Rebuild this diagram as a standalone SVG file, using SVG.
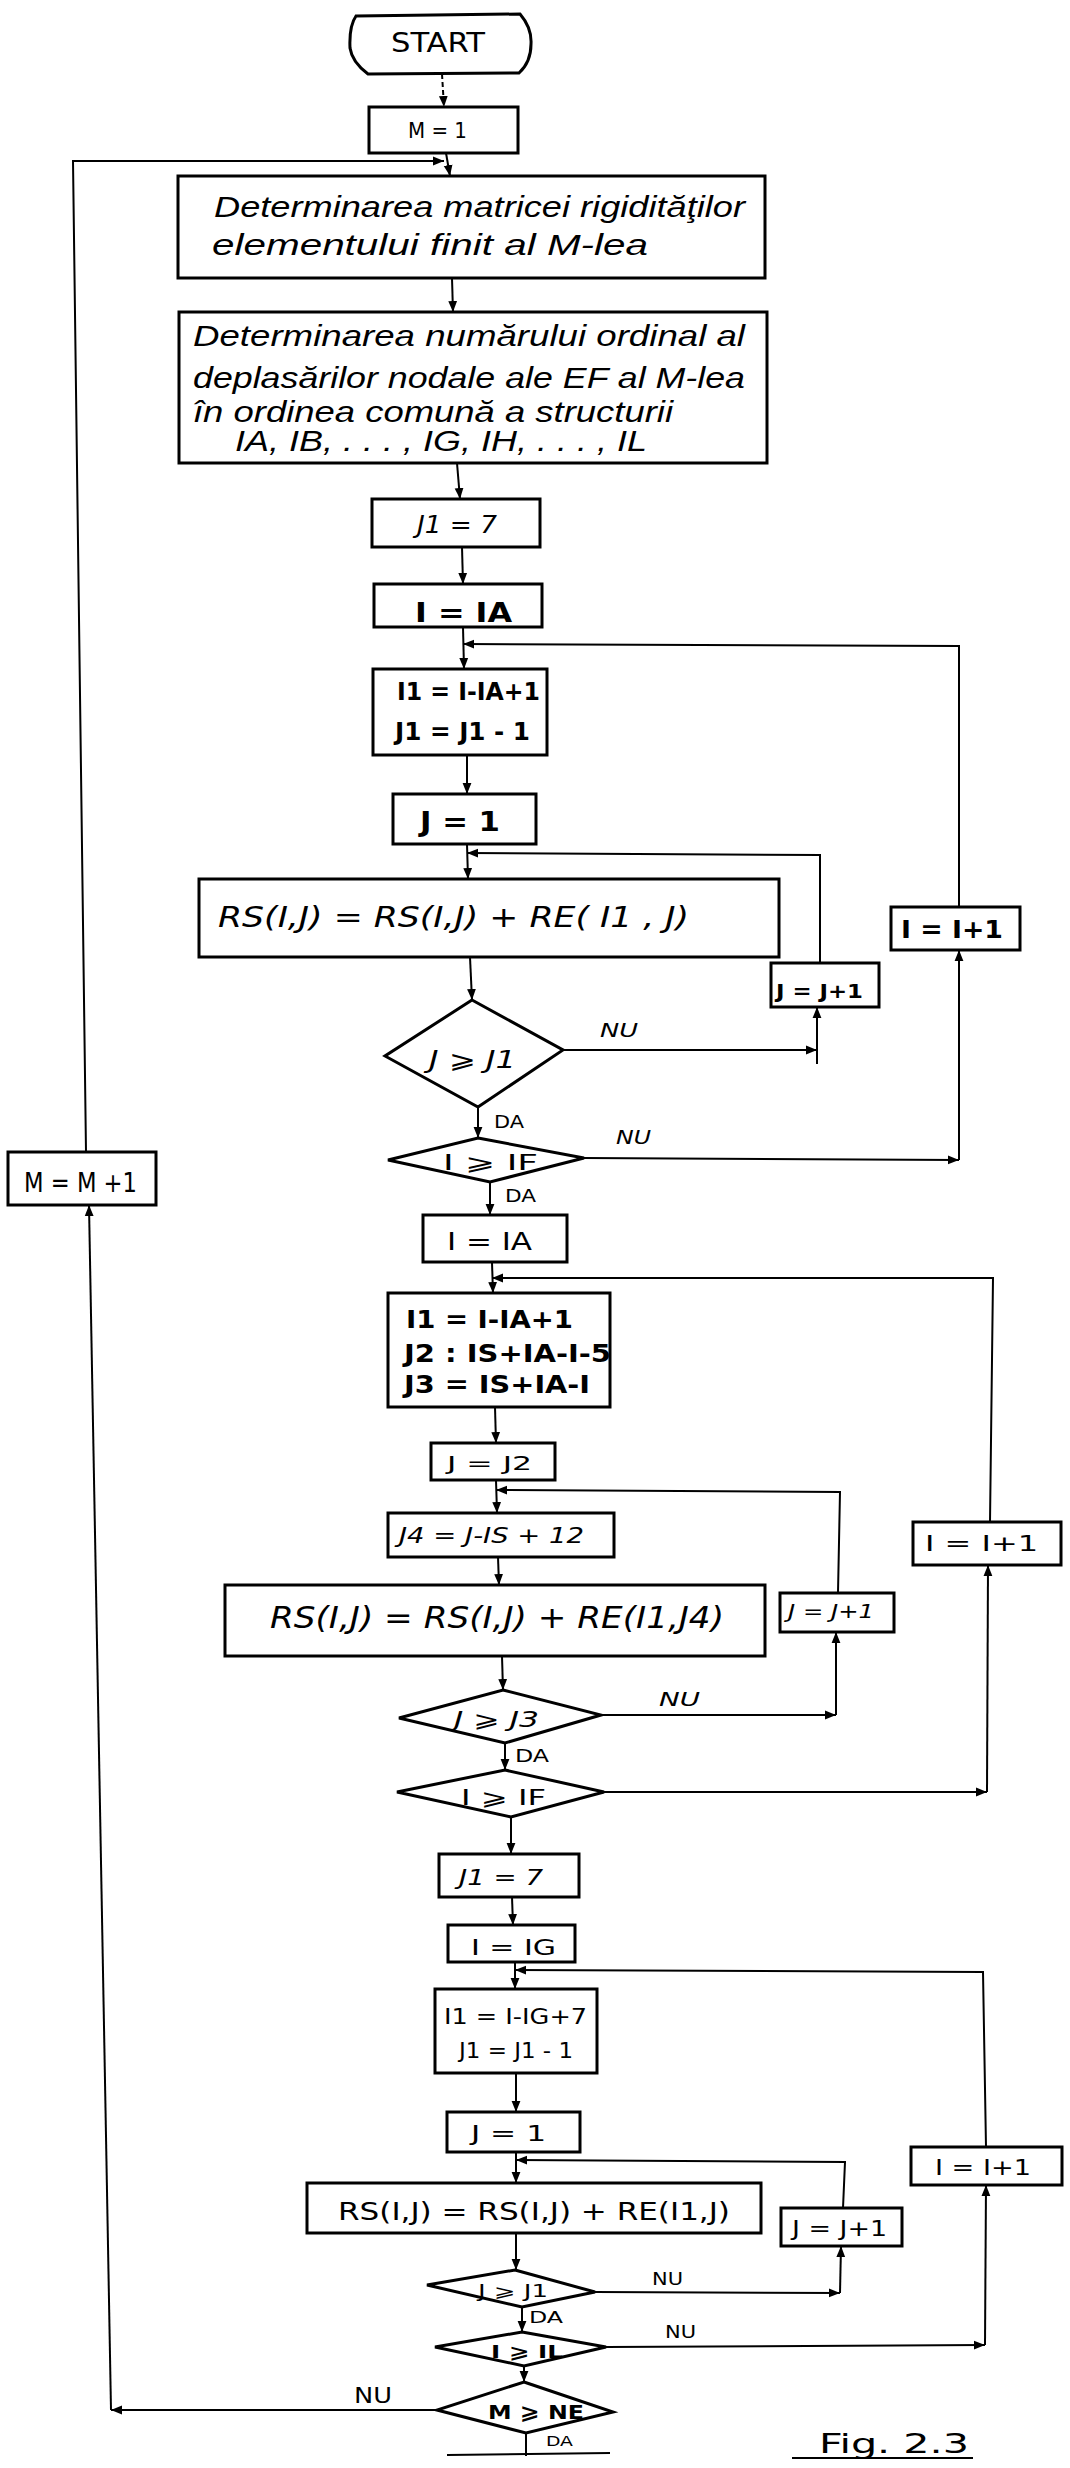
<svg xmlns="http://www.w3.org/2000/svg" width="1070" height="2468" viewBox="0 0 1070 2468">
<defs>
<marker id="ar" viewBox="0 0 10 10" refX="10" refY="5" markerWidth="11" markerHeight="11" markerUnits="userSpaceOnUse" orient="auto"><path d="M0,1 L10,5 L0,9 z" fill="#000"/></marker>
<style>
.bx{fill:#fff;stroke:#000;stroke-width:3}
.dm{fill:#fff;stroke:#000;stroke-width:3;stroke-linejoin:miter}
.cn{fill:none;stroke:#000;stroke-width:2}
.cn path{marker-end:url(#ar)}
.hw{font-family:"Liberation Sans",sans-serif;font-style:italic;font-size:30px}
.bc{font-family:"DejaVu Sans Condensed","DejaVu Sans",sans-serif;font-weight:bold}
.ic{font-family:"DejaVu Sans Condensed","DejaVu Sans",sans-serif;font-style:italic}
.nc{font-family:"DejaVu Sans Condensed","DejaVu Sans",sans-serif}
text{fill:#000}
</style>
</defs>
<rect width="1070" height="2468" fill="#fff"/>

<g id="connectors" class="cn">
<path d="M442,74 L444,107" stroke-dasharray="5 3"/>
<path d="M446,153 L450,176"/>
<path d="M452,278 L453,312"/>
<path d="M457,463 L460,499"/>
<path d="M462,547 L463,584"/>
<path d="M463,627 L464,669"/>
<path d="M467,755 L467,794"/>
<path d="M467,844 L468,879"/>
<path d="M470,957 L472,1000"/>
<path d="M563,1050 L817,1050"/>
<path d="M817,1064 L817,1007"/>
<path d="M820,963 L820,855 L467,853"/>
<path d="M478,1107 L478,1138"/>
<path d="M584,1158 L959,1160"/>
<path d="M959,1160 L959,950"/>
<path d="M959,907 L959,646 L463,644"/>
<path d="M490,1182 L490,1215"/>
<path d="M492,1262 L493,1293"/>
<path d="M495,1407 L496,1443"/>
<path d="M496,1480 L497,1513"/>
<path d="M498,1557 L499,1585"/>
<path d="M502,1656 L503,1690"/>
<path d="M601,1715 L836,1715"/>
<path d="M836,1715 L836,1632"/>
<path d="M838,1593 L840,1492 L496,1490"/>
<path d="M505,1743 L505,1770"/>
<path d="M604,1792 L987,1792"/>
<path d="M987,1792 L988,1565"/>
<path d="M990,1522 L993,1278 L492,1278"/>
<path d="M511,1817 L511,1854"/>
<path d="M512,1897 L513,1925"/>
<path d="M515,1962 L515,1989"/>
<path d="M516,2073 L516,2112"/>
<path d="M516,2152 L516,2183"/>
<path d="M516,2233 L516,2270"/>
<path d="M595,2292 L840,2293"/>
<path d="M840,2293 L841,2246"/>
<path d="M843,2208 L845,2162 L516,2160"/>
<path d="M522,2307 L522,2332"/>
<path d="M606,2347 L985,2345"/>
<path d="M985,2345 L986,2185"/>
<path d="M986,2147 L983,1972 L515,1970"/>
<path d="M524,2366 L524,2382"/>
<path d="M437,2410 L111,2410"/>
<path d="M111,2410 L89,1205"/>
<path d="M86,1152 L73,161 L444,161"/>
<line x1="526" y1="2433" x2="526" y2="2456"/>
<line x1="447" y1="2455" x2="610" y2="2453"/>
<line x1="792" y1="2458" x2="973" y2="2458"/>
</g>

<g id="start"><path class="bx" d="M356,16 L520,14 Q532,28 531,44 Q531,62 519,73 L368,74 Q352,62 350,48 Q349,26 356,16 Z"/><text class="nc" x="391" y="52" font-size="26" textLength="94" lengthAdjust="spacingAndGlyphs">START</text></g>
<g id="m1"><rect class="bx" x="369" y="107" width="149" height="46"/><text class="nc" x="408" y="138" font-size="21" textLength="59" lengthAdjust="spacingAndGlyphs">M = 1</text></g>
<g id="box1"><rect class="bx" x="178" y="176" width="587" height="102"/><text class="hw" x="214" y="217" textLength="531" lengthAdjust="spacingAndGlyphs">Determinarea matricei rigidităţilor</text><text class="hw" x="212" y="255" textLength="436" lengthAdjust="spacingAndGlyphs">elementului finit  al  M-lea</text></g>
<g id="box2"><rect class="bx" x="179" y="312" width="588" height="151"/><text class="hw" x="193" y="346" textLength="552" lengthAdjust="spacingAndGlyphs">Determinarea numărului ordinal al</text><text class="hw" x="193" y="388" textLength="552" lengthAdjust="spacingAndGlyphs">deplasărilor nodale ale EF al M-lea</text><text class="hw" x="193" y="422" textLength="480" lengthAdjust="spacingAndGlyphs">în ordinea comună a structurii</text><text class="hw" x="235" y="451" font-size="25" textLength="412" lengthAdjust="spacingAndGlyphs">IA, IB, . . . , IG, IH, . . . , IL</text></g>
<g id="j1_7"><rect class="bx" x="372" y="499" width="168" height="48"/><text class="ic" x="417" y="533" font-size="24" textLength="80" lengthAdjust="spacingAndGlyphs">J1 = 7</text></g>
<g id="i_ia"><rect class="bx" x="374" y="584" width="168" height="43"/><text class="bc" x="415" y="622" font-size="26" textLength="97" lengthAdjust="spacingAndGlyphs">I = IA</text></g>
<g id="i1_a"><rect class="bx" x="373" y="669" width="174" height="86"/><text class="bc" x="397" y="700" font-size="24" textLength="143" lengthAdjust="spacingAndGlyphs">I1 = I-IA+1</text><text class="bc" x="395" y="740" font-size="24" textLength="135" lengthAdjust="spacingAndGlyphs">J1 = J1 - 1</text></g>
<g id="j_1a"><rect class="bx" x="393" y="794" width="143" height="50"/><text class="bc" x="420" y="831" font-size="26" textLength="80" lengthAdjust="spacingAndGlyphs">J = 1</text></g>
<g id="rs1"><rect class="bx" x="199" y="879" width="580" height="78"/><text class="ic" x="218" y="927" font-size="28" textLength="471" lengthAdjust="spacingAndGlyphs">RS(I,J) = RS(I,J) + RE( I1 , J)</text></g>
<g id="jj1"><rect class="bx" x="771" y="963" width="108" height="44"/><text class="bc" x="776" y="998" font-size="20" textLength="87" lengthAdjust="spacingAndGlyphs">J = J+1</text></g>
<g id="ii1"><rect class="bx" x="891" y="907" width="129" height="43"/><text class="bc" x="901" y="938" font-size="24" textLength="102" lengthAdjust="spacingAndGlyphs">I = I+1</text></g>
<g id="d1"><polygon class="dm" points="472,1000 563,1050 478,1107 385,1056"/><text class="ic" x="429" y="1068" font-size="24" textLength="87" lengthAdjust="spacingAndGlyphs">J ⩾ J1</text></g>
<g id="d2"><polygon class="dm" points="478,1138 584,1158 490,1182 388,1160"/><text class="nc" x="443" y="1170" font-size="22" textLength="95" lengthAdjust="spacingAndGlyphs">I ⩾ IF</text></g>
<g id="i_ia2"><rect class="bx" x="423" y="1215" width="144" height="47"/><text class="nc" x="447" y="1250" font-size="24" textLength="85" lengthAdjust="spacingAndGlyphs">I = IA</text></g>
<g id="i1_b"><rect class="bx" x="388" y="1293" width="222" height="114"/><text class="bc" x="406" y="1328" font-size="24" textLength="167" lengthAdjust="spacingAndGlyphs">I1 = I-IA+1</text><text class="bc" x="404" y="1362" font-size="24" textLength="207" lengthAdjust="spacingAndGlyphs">J2 : IS+IA-I-5</text><text class="bc" x="404" y="1393" font-size="24" textLength="186" lengthAdjust="spacingAndGlyphs">J3 = IS+IA-I</text></g>
<g id="j_j2"><rect class="bx" x="431" y="1443" width="124" height="37"/><text class="nc" x="447" y="1470" font-size="20" textLength="85" lengthAdjust="spacingAndGlyphs">J = J2</text></g>
<g id="j4"><rect class="bx" x="388" y="1513" width="226" height="44"/><text class="ic" x="399" y="1543" font-size="22" textLength="185" lengthAdjust="spacingAndGlyphs">J4 = J-IS + 12</text></g>
<g id="rs2"><rect class="bx" x="225" y="1585" width="540" height="71"/><text class="ic" x="270" y="1628" font-size="30" textLength="454" lengthAdjust="spacingAndGlyphs">RS(I,J) = RS(I,J) + RE(I1,J4)</text></g>
<g id="jj2"><rect class="bx" x="780" y="1593" width="114" height="39"/><text class="ic" x="788" y="1618" font-size="20" textLength="86" lengthAdjust="spacingAndGlyphs">J = J+1</text></g>
<g id="ii2"><rect class="bx" x="913" y="1522" width="148" height="43"/><text class="nc" x="925" y="1551" font-size="22" textLength="113" lengthAdjust="spacingAndGlyphs">I = I+1</text></g>
<g id="d3"><polygon class="dm" points="503,1690 601,1715 505,1743 399,1718"/><text class="ic" x="454" y="1727" font-size="22" textLength="85" lengthAdjust="spacingAndGlyphs">J ⩾ J3</text></g>
<g id="d4"><polygon class="dm" points="505,1770 604,1792 511,1817 397,1792"/><text class="nc" x="461" y="1805" font-size="22" textLength="85" lengthAdjust="spacingAndGlyphs">I ⩾ IF</text></g>
<g id="j1_7b"><rect class="bx" x="439" y="1854" width="140" height="43"/><text class="ic" x="459" y="1885" font-size="22" textLength="84" lengthAdjust="spacingAndGlyphs">J1 = 7</text></g>
<g id="i_ig"><rect class="bx" x="448" y="1925" width="127" height="37"/><text class="nc" x="471" y="1955" font-size="22" textLength="85" lengthAdjust="spacingAndGlyphs">I = IG</text></g>
<g id="i1_c"><rect class="bx" x="435" y="1989" width="162" height="84"/><text class="nc" x="444" y="2024" font-size="22" textLength="143" lengthAdjust="spacingAndGlyphs">I1 = I-IG+7</text><text class="nc" x="459" y="2058" font-size="22" textLength="114" lengthAdjust="spacingAndGlyphs">J1 = J1 - 1</text></g>
<g id="j_1b"><rect class="bx" x="447" y="2112" width="133" height="40"/><text class="nc" x="471" y="2141" font-size="22" textLength="75" lengthAdjust="spacingAndGlyphs">J = 1</text></g>
<g id="rs3"><rect class="bx" x="307" y="2183" width="454" height="50"/><text class="nc" x="338" y="2220" font-size="24" textLength="392" lengthAdjust="spacingAndGlyphs">RS(I,J) = RS(I,J) + RE(I1,J)</text></g>
<g id="jj3"><rect class="bx" x="781" y="2208" width="121" height="38"/><text class="nc" x="792" y="2236" font-size="22" textLength="95" lengthAdjust="spacingAndGlyphs">J = J+1</text></g>
<g id="ii3"><rect class="bx" x="911" y="2147" width="151" height="38"/><text class="nc" x="935" y="2175" font-size="22" textLength="96" lengthAdjust="spacingAndGlyphs">I = I+1</text></g>
<g id="d5"><polygon class="dm" points="515,2270 595,2292 522,2307 427,2285"/><text class="nc" x="478" y="2297" font-size="17" textLength="70" lengthAdjust="spacingAndGlyphs">J ⩾ J1</text></g>
<g id="d6"><polygon class="dm" points="522,2332 606,2347 524,2366 435,2347"/><text class="bc" x="491" y="2358" font-size="18" textLength="72" lengthAdjust="spacingAndGlyphs">I ⩾ IL</text></g>
<g id="d7"><polygon class="dm" points="524,2382 613,2412 526,2433 437,2410" stroke-width="4.5"/><text class="bc" x="488" y="2419" font-size="20" textLength="96" lengthAdjust="spacingAndGlyphs">M ⩾ NE</text></g>
<g id="mm1"><rect class="bx" x="8" y="1152" width="148" height="53"/><text class="nc" x="24" y="1192" font-size="26" textLength="113" lengthAdjust="spacingAndGlyphs">M = M +1</text></g>

<g id="labels">
<text class="ic" x="600" y="1037" font-size="20" textLength="38" lengthAdjust="spacingAndGlyphs">NU</text>
<text class="nc" x="494" y="1128" font-size="18" textLength="30" lengthAdjust="spacingAndGlyphs">DA</text>
<text class="ic" x="616" y="1144" font-size="19" textLength="35" lengthAdjust="spacingAndGlyphs">NU</text>
<text class="nc" x="505" y="1202" font-size="18" textLength="31" lengthAdjust="spacingAndGlyphs">DA</text>
<text class="ic" x="659" y="1706" font-size="19" textLength="41" lengthAdjust="spacingAndGlyphs">NU</text>
<text class="nc" x="515" y="1762" font-size="18" textLength="34" lengthAdjust="spacingAndGlyphs">DA</text>
<text class="nc" x="652" y="2285" font-size="17" textLength="31" lengthAdjust="spacingAndGlyphs">NU</text>
<text class="nc" x="529" y="2323" font-size="16" textLength="34" lengthAdjust="spacingAndGlyphs">DA</text>
<text class="nc" x="665" y="2338" font-size="17" textLength="31" lengthAdjust="spacingAndGlyphs">NU</text>
<text class="nc" x="354" y="2403" font-size="21" textLength="38" lengthAdjust="spacingAndGlyphs">NU</text>
<text class="nc" x="546" y="2446" font-size="14" textLength="27" lengthAdjust="spacingAndGlyphs">DA</text>
<text class="nc" x="819" y="2453" font-size="26" textLength="150" lengthAdjust="spacingAndGlyphs">Fig. 2.3</text>
</g>
</svg>
